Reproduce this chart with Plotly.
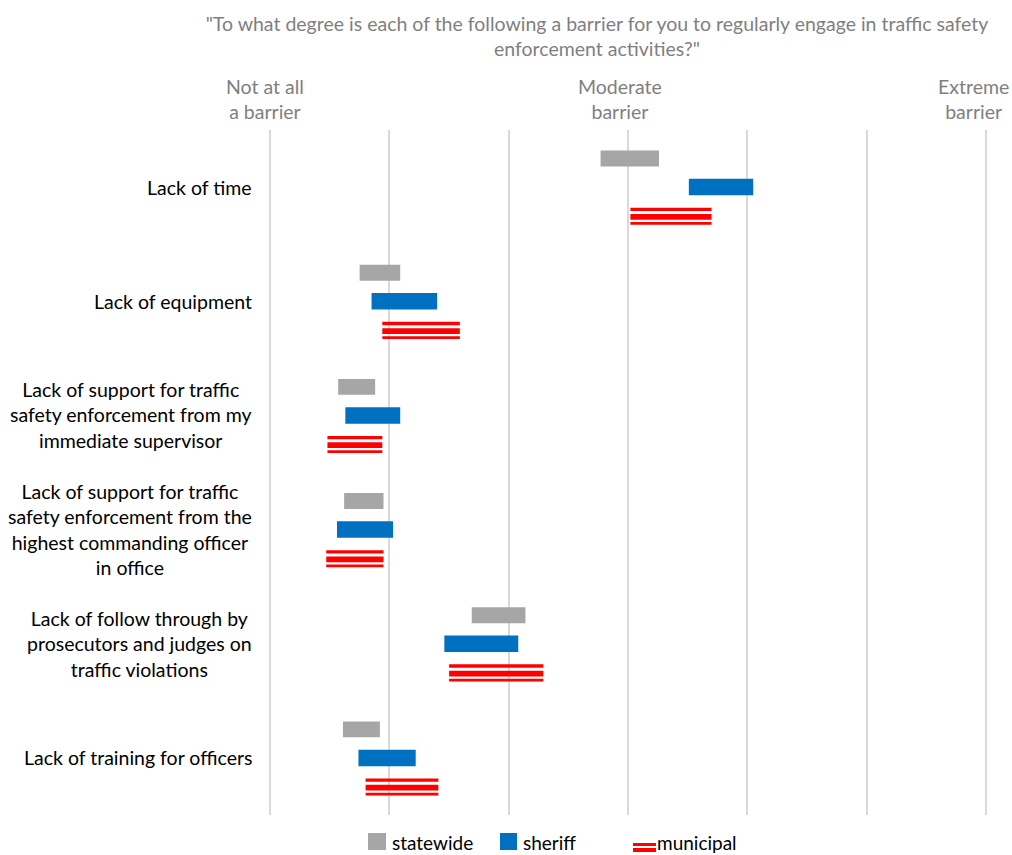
import plotly.graph_objects as go

# Survey items (top to bottom)
categories = [
    "Lack of time",
    "Lack of equipment",
    "Lack of support for traffic<br>safety enforcement from my<br>immediate supervisor",
    "Lack of support for traffic<br>safety enforcement from the<br>highest commanding officer<br>in office",
    "Lack of follow through by<br>prosecutors and judges on<br>traffic violations",
    "Lack of training for officers",
]

# Range (low/high) of the barrier rating on a 1-7 scale
statewide_low = [3.77, 1.75, 1.57, 1.62, 2.69, 1.61]
statewide_high = [4.26, 2.09, 1.88, 1.95, 3.14, 1.92]
sheriff_low = [4.51, 1.85, 1.63, 1.56, 2.46, 1.74]
sheriff_high = [5.05, 2.40, 2.09, 2.03, 3.08, 2.22]
municipal_low = [4.02, 1.94, 1.48, 1.47, 2.50, 1.80]
municipal_high = [4.70, 2.59, 1.94, 1.95, 3.29, 2.41]

scale_values = [1, 2, 3, 4, 5, 6, 7]
scale_label_values = [1, 4, 7]
scale_label_text = ["Not at all<br>a barrier", "Moderate<br>barrier", "Extreme<br>barrier"]

series_names = ["statewide", "sheriff", "municipal"]

TITLE = '"To what degree is each of the following a barrier for you to regularly engage in traffic safety<br>enforcement activities?"'

GRAY = "#a6a6a6"
BLUE = "#0070c0"
RED = "#ff0000"
TEXT_GRAY = "#7f7f7f"
FONT = "Lato"

W, H = 1012, 855
ML, MR, MT, MB = 269, 25, 130, 40
PW, PH = W - ML - MR, H - MT - MB


def px_x(px):
    return (px - ML) / PW


def px_y(py):
    return (H - MB - py) / PH


idx = list(range(len(categories)))


def spans(lo, hi):
    return [h - l for l, h in zip(lo, hi)]


fig = go.Figure()

fig.add_trace(go.Bar(
    name=series_names[0], orientation="h", showlegend=False,
    y=[i - 0.25 for i in idx], x=spans(statewide_low, statewide_high), base=statewide_low,
    width=0.14, marker=dict(color=GRAY, line=dict(width=0)),
))
fig.add_trace(go.Bar(
    name=series_names[1], orientation="h", showlegend=False,
    y=idx, x=spans(sheriff_low, sheriff_high), base=sheriff_low,
    width=0.144, marker=dict(color=BLUE, line=dict(width=0)),
))

# municipal bars are drawn as three red stripes: thin / thick / thin
for off, w in [(0.195, 0.029), (0.261, 0.05), (0.318, 0.024)]:
    fig.add_trace(go.Bar(
        name=series_names[2], orientation="h", showlegend=False,
        y=[i + off for i in idx], x=spans(municipal_low, municipal_high), base=municipal_low,
        width=w, marker=dict(color=RED, line=dict(width=0)),
    ))

# category labels, centred lines, right-aligned block
for i, cat in enumerate(categories):
    fig.add_annotation(
        x=px_x(254), xref="paper", y=i, yref="y", text=cat, showarrow=False,
        xanchor="right", yanchor="middle", align="center",
        font=dict(family=FONT, size=19.5, color="#000000"),
    )

# scale anchors above the gridlines
for val, txt, anchor, shift in zip(scale_label_values, scale_label_text,
                                    ["center", "center", "right"], [-5, -8, 25]):
    fig.add_annotation(
        x=val, xref="x", y=1, yref="paper", text=txt, showarrow=False,
        xanchor=anchor, yanchor="bottom", align="center", xshift=shift, yshift=5,
        font=dict(family=FONT, size=19.5, color=TEXT_GRAY),
    )

# legend row along the bottom
def rect(x0, y0, x1, y1, color):
    fig.add_shape(type="rect", xref="paper", yref="paper",
                  x0=px_x(x0), x1=px_x(x1), y0=px_y(y0), y1=px_y(y1),
                  fillcolor=color, line=dict(width=0), layer="above")


rect(368, 833, 386, 850, GRAY)
rect(500, 833, 517, 850, BLUE)
rect(633, 843, 656, 846, RED)
rect(633, 848, 656, 852, RED)

for name, x0 in zip(series_names, [390, 521, 655]):
    fig.add_annotation(
        x=px_x(x0), xref="paper", y=px_y(842), yref="paper", text=name,
        showarrow=False, xanchor="left", yanchor="middle",
        font=dict(family=FONT, size=19, color="#000000"),
    )

fig.update_layout(
    width=W, height=H,
    margin=dict(l=ML, r=MR, t=MT, b=MB),
    paper_bgcolor="white", plot_bgcolor="white",
    barmode="overlay", showlegend=False,
    title=dict(text=TITLE, x=597 / W, xref="container", xanchor="center",
               y=1 - 31 / H, yref="container", yanchor="middle",
               font=dict(family=FONT, size=19.5, color=TEXT_GRAY)),
    xaxis=dict(
        range=[0.99, 7.01], side="top", tickvals=scale_values,
        showticklabels=False,
        showgrid=True, gridcolor="#d9d9d9", gridwidth=1.5,
        zeroline=False, showline=False, ticks="", automargin=False,
    ),
    yaxis=dict(
        range=[5.5, -0.5], showgrid=False, zeroline=False, showline=False,
        showticklabels=False, ticks="", automargin=False,
    ),
    font=dict(family=FONT),
)

fig.write_html("out.html")
